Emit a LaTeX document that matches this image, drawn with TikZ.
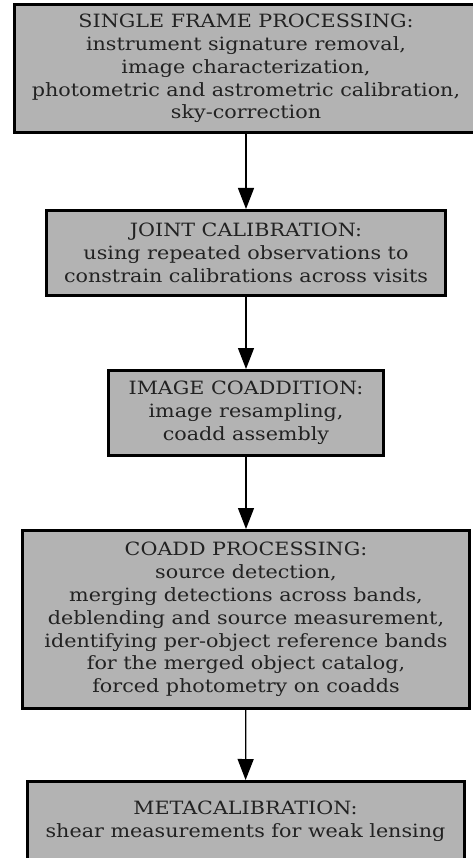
\documentclass[tikz,border=0pt]{standalone}
\usepackage{fontspec}
\setmainfont{DejaVu Serif}[FakeStretch=1.13]
\usepackage{tikz}
\usetikzlibrary{arrows.meta}
\definecolor{StageGray}{RGB}{179,179,179}
\definecolor{StageText}{RGB}{34,34,34}

\begin{document}
\begin{tikzpicture}[x=1pt, y=-1pt,
    stage/.style={draw=black, line width=3pt, fill=StageGray, text=StageText,
        align=center, inner sep=0pt, font=\fontsize{18.3}{22.8}\selectfont},
    flow/.style={-{Triangle[width=16pt,length=21pt]}, line width=1.3pt}]
    \useasboundingbox (0,0) rectangle (472,858);
    % Pipeline stages
    \node[stage, minimum width=463pt, minimum height=128pt] (single) at (246,68.5)
        {SINGLE FRAME PROCESSING:\\instrument signature removal,\\image characterization,\\photometric and astrometric calibration,\\sky-correction};
    \node[stage, minimum width=399pt, minimum height=85pt] (joint) at (246,253)
        {JOINT CALIBRATION:\\using repeated observations to\\constrain calibrations across visits};
    \node[stage, minimum width=275pt, minimum height=85pt] (coaddition) at (246,413)
        {IMAGE COADDITION:\\image resampling,\\coadd assembly};
    \node[stage, minimum width=447pt, minimum height=178pt] (coaddproc) at (246,619.5)
        {COADD PROCESSING:\\source detection,\\merging detections across bands,\\deblending and source measurement,\\identifying per-object reference bands\\for the merged object catalog,\\forced photometry on coadds};
    \node[stage, minimum width=437pt, minimum height=80pt] (metacal) at (245.5,821.5)
        {METACALIBRATION:\\shear measurements for weak lensing};
    % Arrows between stages
    \foreach \a/\b in {single/joint, joint/coaddition, coaddition/coaddproc, coaddproc/metacal} {
        \draw[flow] (\a) -- (\b);
    }
\end{tikzpicture}
\end{document}
